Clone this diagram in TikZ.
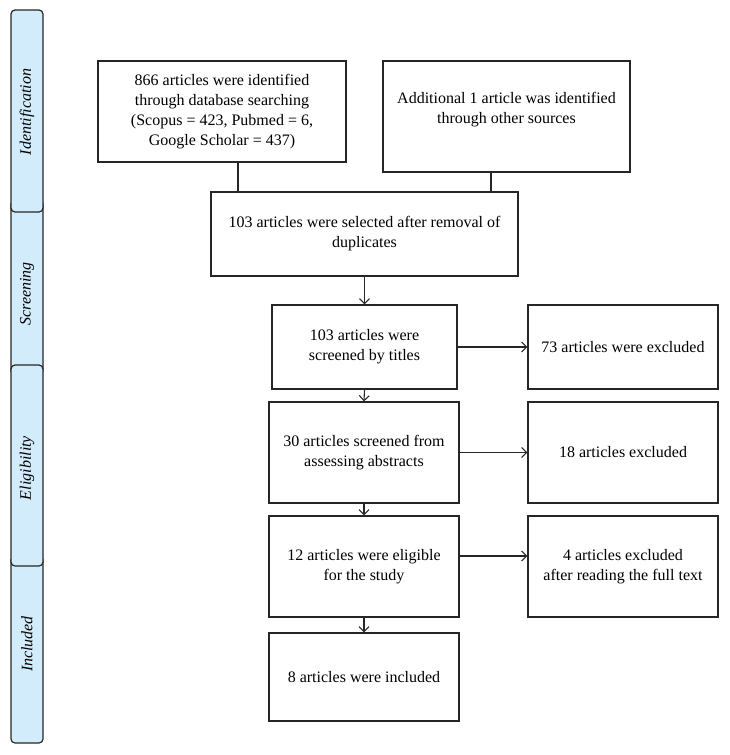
\documentclass[tikz,border=0pt]{standalone}
\usepackage{fontspec}
\setmainfont{Liberation Serif}
\usetikzlibrary{arrows.meta}
\definecolor{tabfill}{HTML}{D3ECFB}
\definecolor{edge}{HTML}{262626}
\begin{document}
\begin{tikzpicture}[x=1pt,y=-1pt,
  box/.style={draw=edge,line width=1.3pt,rectangle,inner sep=0pt,align=center,
    font=\fontsize{16}{20}\selectfont},
  tab/.style={draw=edge,line width=1.2pt,fill=tabfill,rounded corners=4pt},
  tablabel/.style={rotate=90,font=\fontsize{16}{20}\selectfont\itshape},
  conn/.style={draw=edge,line width=1.1pt},
  arr/.style={conn,-{Straight Barb[length=5pt,width=10pt]}}]
\useasboundingbox (0,0) rectangle (729,755);
% side tabs
\draw[tab] (11,200) rectangle (43,375);
\draw[tab] (11,556) rectangle (43,743);
\draw[tab] (11,10) rectangle (43,212);
\draw[tab] (11,365) rectangle (43,566);
\node[tablabel] (lid) at (27,112) {Identification};
\node[tablabel] (lsc) at (27,294) {Screening};
\node[tablabel] (lel) at (27,468) {Eligibility};
\node[tablabel] (lin) at (27,644) {Included};
% boxes
\node[box,minimum width=248pt,minimum height=101pt] (A) at (222,111.5)
  {866 articles were identified\\through database searching\\(Scopus = 423, Pubmed = 6,\\Google Scholar = 437)};
\node[box,minimum width=247pt,minimum height=111pt] (B) at (506.5,116.5) {};
\node (Bt) at (506.5,110) [align=center,font=\fontsize{16}{20}\selectfont]
  {Additional 1 article was identified\\through other sources};
\node[box,minimum width=307pt,minimum height=84pt] (C) at (364.5,234)
  {103 articles were selected after removal of\\duplicates};
\node[box,minimum width=185pt,minimum height=84pt] (D) at (364.5,347)
  {103 articles were\\screened by titles};
\node[box,minimum width=190pt,minimum height=84pt] (E) at (623,347)
  {73 articles were excluded};
\node[box,minimum width=190pt,minimum height=101pt] (F) at (364,452.5)
  {30 articles screened from\\assessing abstracts};
\node[box,minimum width=190pt,minimum height=101pt] (G) at (623,452.5)
  {18 articles excluded};
\node[box,minimum width=190pt,minimum height=101pt] (H) at (364,566.5)
  {12 articles were eligible\\for the study};
\node[box,minimum width=190pt,minimum height=101pt] (I) at (623,566.5)
  {4 articles excluded\\after reading the full text};
\node[box,minimum width=190pt,minimum height=88pt] (J) at (364,677)
  {8 articles were included};
% connectors
\draw[conn] (A.south -| 238,0) -- (C.north -| 238,0);
\draw[conn] (B.south -| 491,0) -- (C.north -| 491,0);
\draw[arr] (C.south -| D.north) -- (D.north);
\draw[arr] (D.east) -- (E.west);
\draw[arr] (D.south) -- (F.north);
\draw[arr] (F.east) -- (G.west);
\draw[arr] (F.south) -- (H.north);
\draw[arr] ([yshift=10.5pt]H.east) -- ([yshift=10.5pt]I.west);
\draw[arr] (H.south) -- (J.north);
\end{tikzpicture}
\end{document}
